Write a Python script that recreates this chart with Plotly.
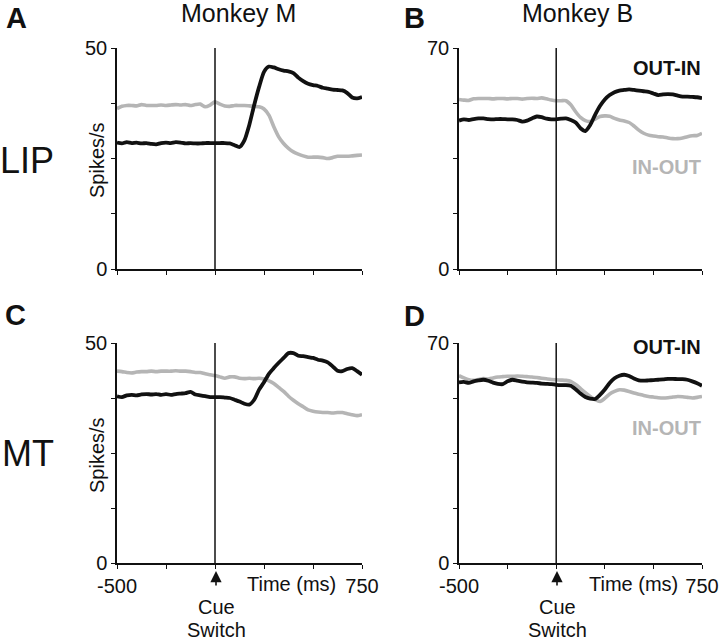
import plotly.graph_objects as go

W, H = 720, 642

time_ms = list(range(-500, 751, 25))

# Panel A: LIP, Monkey M
A_out_in = [28.6, 28.4, 28.7, 28.5, 28.6, 28.4, 28.5, 28.3, 28.2, 28.5, 28.6, 28.5, 28.7, 28.6, 28.4, 28.5, 28.4, 28.4, 28.5, 28.5,
            28.5, 28.5, 28.5, 28.4, 28.0, 27.6, 29.1, 32.6, 37.1, 41.2, 44.6, 45.8, 45.6, 45.2, 44.9, 44.7, 44.3, 43.3, 42.5, 41.9,
            41.6, 41.4, 41.0, 40.8, 40.6, 40.5, 40.4, 39.8, 38.8, 38.6, 38.9]
A_in_out = [36.3, 36.8, 37.0, 37.0, 36.9, 37.2, 37.0, 37.0, 37.0, 37.1, 37.0, 37.1, 37.2, 37.1, 37.2, 37.0, 37.2, 37.3, 36.7, 37.1,
            37.8, 37.3, 36.9, 36.8, 37.0, 37.0, 37.0, 36.9, 36.8, 36.7, 36.2, 34.8, 32.2, 29.9, 28.4, 27.3, 26.5, 26.0, 25.6, 25.3,
            25.3, 25.3, 25.2, 25.0, 25.2, 25.5, 25.5, 25.5, 25.6, 25.7, 25.8]
# Panel B: LIP, Monkey B
B_out_in = [47.0, 47.4, 47.2, 47.5, 47.7, 47.7, 47.5, 47.4, 47.5, 47.5, 47.4, 47.4, 47.2, 46.7, 47.0, 47.7, 48.3, 48.1, 47.6, 47.4,
            47.4, 47.6, 47.7, 47.2, 46.4, 44.6, 43.7, 45.6, 48.8, 51.6, 53.7, 55.1, 56.0, 56.5, 56.7, 56.9, 56.7, 56.5, 56.3, 56.1,
            55.6, 55.1, 55.3, 55.4, 55.3, 54.9, 54.6, 54.6, 54.5, 54.4, 54.1]
B_in_out = [53.7, 53.5, 53.4, 53.9, 54.0, 54.0, 54.0, 53.9, 54.0, 54.0, 53.9, 54.0, 54.0, 53.8, 54.0, 54.1, 54.0, 54.2, 53.9, 53.5,
            53.3, 53.3, 53.3, 52.0, 49.8, 48.0, 47.0, 46.7, 47.5, 48.3, 48.5, 48.4, 47.7, 47.2, 46.9, 46.4, 45.3, 44.0, 43.0, 42.4,
            42.1, 41.9, 41.8, 41.5, 41.3, 41.3, 41.5, 41.9, 42.2, 42.3, 43.0]
# Panel C: MT, Monkey M
C_out_in = [37.9, 37.7, 38.1, 38.2, 38.1, 38.3, 38.4, 38.3, 38.4, 38.2, 38.4, 38.2, 38.4, 38.5, 38.6, 38.9, 38.3, 38.1, 37.9, 37.7,
            37.7, 37.7, 37.6, 37.5, 37.1, 36.7, 36.2, 36.0, 37.1, 39.4, 41.1, 43.0, 44.3, 45.5, 46.6, 47.7, 47.7, 47.1, 47.0, 46.8,
            46.6, 46.2, 46.0, 45.6, 44.7, 43.7, 43.6, 44.1, 44.3, 43.6, 42.8]
C_in_out = [43.6, 43.5, 43.3, 43.2, 43.4, 43.5, 43.5, 43.6, 43.5, 43.6, 43.6, 43.6, 43.7, 43.6, 43.6, 43.5, 43.3, 43.3, 43.0, 42.8,
            42.6, 42.3, 42.0, 42.3, 42.3, 42.0, 41.9, 42.0, 41.9, 42.0, 41.8, 41.4, 40.8, 39.9, 39.0, 37.9, 37.0, 36.2, 35.5, 34.8,
            34.5, 34.3, 34.2, 34.2, 34.1, 34.2, 34.2, 33.9, 33.7, 33.5, 33.7]
# Panel D: MT, Monkey B
D_out_in = [57.5, 57.6, 57.3, 57.8, 58.1, 58.3, 58.0, 57.4, 57.0, 56.9, 57.8, 58.3, 58.0, 57.7, 57.5, 57.4, 57.3, 57.1, 57.0, 56.9,
            56.7, 56.6, 56.6, 56.4, 55.3, 53.9, 52.8, 52.3, 52.2, 53.5, 55.2, 57.3, 58.8, 59.6, 59.9, 59.5, 58.7, 58.1, 58.0, 58.1,
            58.2, 58.3, 58.4, 58.6, 58.6, 58.5, 58.5, 58.3, 57.8, 57.2, 56.4]
D_in_out = [59.6, 58.9, 58.3, 58.1, 58.4, 58.7, 58.5, 58.9, 59.2, 59.3, 59.4, 59.4, 59.5, 59.4, 59.3, 59.2, 59.0, 58.8, 58.6, 58.4,
            58.3, 58.2, 58.1, 57.8, 56.8, 55.5, 54.2, 53.0, 52.0, 51.4, 52.4, 53.8, 54.6, 55.1, 55.0, 54.6, 54.1, 53.7, 53.3, 53.0,
            52.8, 52.6, 52.5, 52.6, 52.8, 53.0, 52.9, 52.7, 52.5, 52.7, 53.0]

x_ticks = [-500, -250, 0, 250, 500, 750]
x_ticktext_bottom = ["-500", "", "", "", "", "750"]
y_max_M = 50
y_max_B = 70

BLACK = "#111111"
GRAY = "#b5b5b5"
FONT = "Liberation Sans, Arial, sans-serif"


def px(x):
    return x / W


def py(y):
    return 1 - y / H


panels = [
    # (axis suffix, out, in, ymax, xdomain, ydomain, bottom)
    ("", A_out_in, A_in_out, y_max_M, [px(117), px(362)], [py(269), py(48)], False),
    ("2", B_out_in, B_in_out, y_max_B, [px(459), px(702)], [py(269), py(48)], False),
    ("3", C_out_in, C_in_out, y_max_M, [px(117), px(362)], [py(563), py(343)], True),
    ("4", D_out_in, D_in_out, y_max_B, [px(459), px(702)], [py(563), py(343)], True),
]

fig = go.Figure()
layout = dict(width=W, height=H, margin=dict(l=0, r=0, t=0, b=0, autoexpand=False),
              paper_bgcolor="white", plot_bgcolor="white", showlegend=False,
              font=dict(family=FONT, color="#111111"))
shapes = []
for suf, out_v, in_v, ymax, xd, yd, bottom in panels:
    xa = "x" + suf
    ya = "y" + suf
    fig.add_trace(go.Scatter(x=time_ms, y=in_v, mode="lines", xaxis=xa, yaxis=ya,
                             line=dict(color=GRAY, width=3.6, shape="spline", smoothing=0.6),
                             name="IN-OUT"))
    fig.add_trace(go.Scatter(x=time_ms, y=out_v, mode="lines", xaxis=xa, yaxis=ya,
                             line=dict(color=BLACK, width=3.8, shape="spline", smoothing=0.6),
                             name="OUT-IN"))
    layout["xaxis" + suf] = dict(domain=xd, anchor=ya, range=[-500, 750], showgrid=False, zeroline=False,
                                 showline=True, linecolor=BLACK, linewidth=1.5, automargin=False,
                                 ticks="outside", ticklen=4, tickwidth=1.2, tickcolor=BLACK,
                                 tickvals=x_ticks,
                                 ticktext=x_ticktext_bottom if bottom else [""] * 6,
                                 tickfont=dict(size=20, family=FONT, color=BLACK),
                                 ticklabelstandoff=0)
    yticks = [0, ymax / 4, ymax / 2, 3 * ymax / 4, ymax]
    layout["yaxis" + suf] = dict(domain=yd, anchor=xa, range=[0, ymax], showgrid=False, zeroline=False,
                                 showline=True, linecolor=BLACK, linewidth=1.5, automargin=False,
                                 ticks="outside", ticklen=4, tickwidth=1.2, tickcolor=BLACK,
                                 tickvals=yticks, ticktext=["0", "", "", "", str(ymax)],
                                 tickfont=dict(size=20, family=FONT, color=BLACK))
    shapes.append(dict(type="line", xref=xa, yref=ya, x0=0, x1=0, y0=0, y1=ymax,
                       line=dict(color=BLACK, width=1.5)))

layout["shapes"] = shapes

ann = []


def text(t, x, y, size, xanchor="center", color=BLACK, bold=False, angle=0):
    s = "<b>%s</b>" % t if bold else t
    ann.append(dict(text=s, x=px(x), y=py(y), xref="paper", yref="paper", xanchor=xanchor, yanchor="middle",
                    showarrow=False, textangle=angle, font=dict(size=size, family=FONT, color=color)))


text("A", 4, 18, 29, "left", bold=True)
text("B", 402, 18, 29, "left", bold=True)
text("C", 3, 315, 29, "left", bold=True)
text("D", 402, 316, 29, "left", bold=True)
text("Monkey M", 238, 13, 25)
text("Monkey B", 577, 13, 25)
text("LIP", 27, 161, 36)
text("MT", 28, 453, 36)
text("Spikes/s", 97, 160, 20, angle=-90)
text("Spikes/s", 97, 455, 20, angle=-90)
text("OUT-IN", 703, 68, 20, "right", bold=True)
text("IN-OUT", 703, 167, 20, "right", color=GRAY, bold=True)
text("OUT-IN", 703, 347, 20, "right", bold=True)
text("IN-OUT", 703, 428, 20, "right", color=GRAY, bold=True)
text("Time (ms)", 338, 584, 20, "right")
text("Time (ms)", 680, 584, 20, "right")
for cx in (216, 557):
    text("Cue", cx, 607, 20)
    text("Switch", cx, 630, 20)
    ann.append(dict(text="", x=px(cx), y=py(571), xref="paper", yref="paper",
                    ax=0, ay=16, axref="pixel", ayref="pixel",
                    showarrow=True, arrowhead=2, arrowsize=1.4, arrowwidth=1.6, arrowcolor=BLACK))

layout["annotations"] = ann
fig.update_layout(**layout)
fig.write_html("out.html", config={"displayModeBar": False},
               post_script="document.body.style.margin='0';document.body.style.padding='0';document.body.style.overflow='hidden';")
